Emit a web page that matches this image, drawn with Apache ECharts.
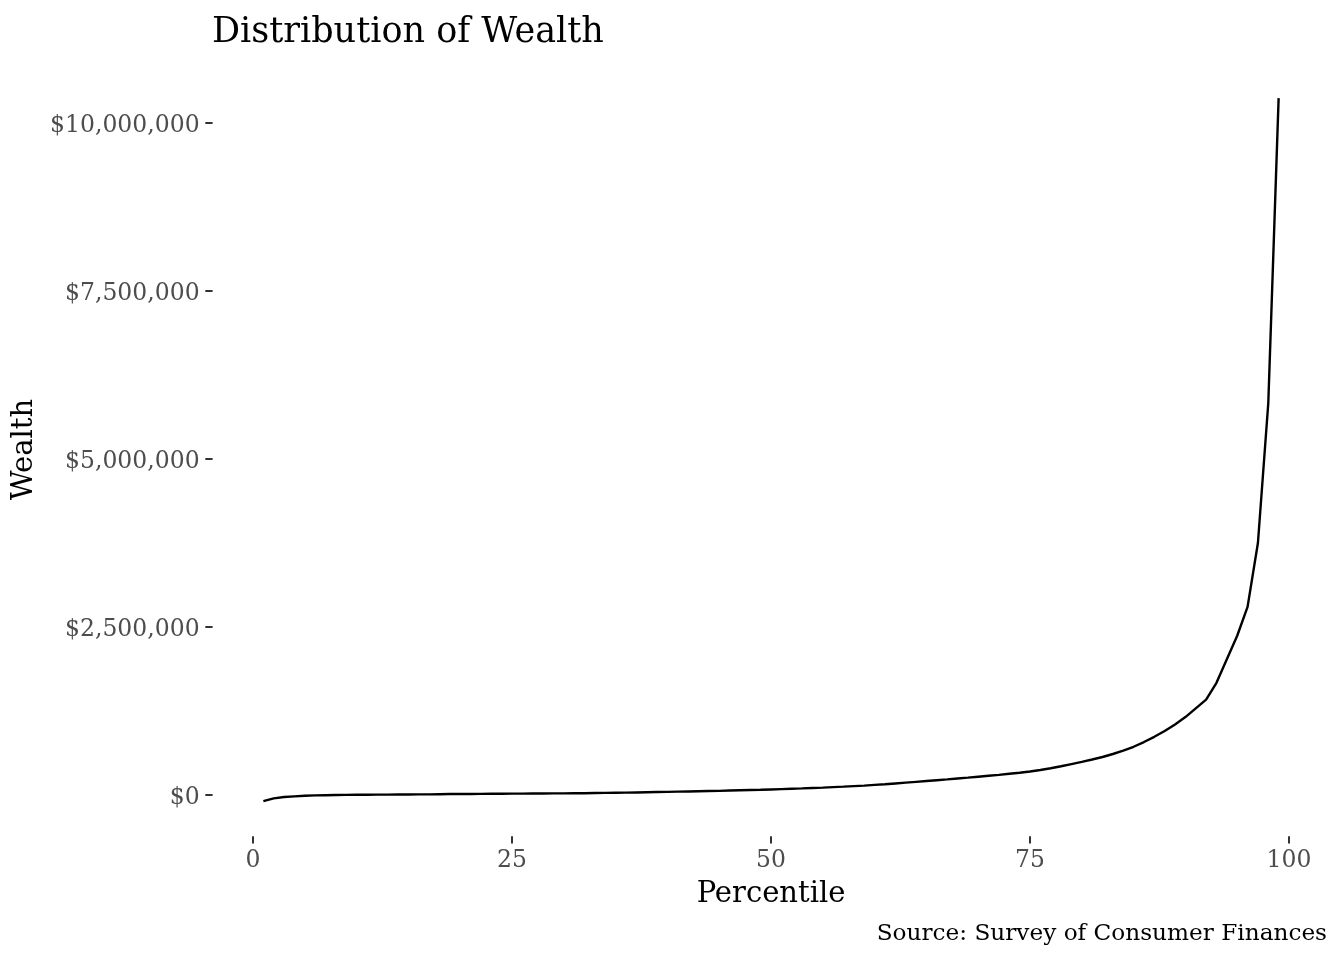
<!DOCTYPE html>
<html>
<head>
<meta charset="utf-8">
<script src="https://cdn.jsdelivr.net/npm/echarts@6/dist/echarts.min.js"></script>
<style>
	html, body {margin: 0; padding: 0; background: #fff;}
	#chart {width: 1344px; height: 960px;}
</style>
</head>
<body>
<div id="chart"></div>
<script>
// percentile of the wealth distribution
let percentiles = [
	1, 2, 3, 4, 5, 6, 7, 8, 9, 10,
	11, 12, 13, 14, 15, 16, 17, 18, 19, 20,
	21, 22, 23, 24, 25, 26, 27, 28, 29, 30,
	31, 32, 33, 34, 35, 36, 37, 38, 39, 40,
	41, 42, 43, 44, 45, 46, 47, 48, 49, 50,
	51, 52, 53, 54, 55, 56, 57, 58, 59, 60,
	61, 62, 63, 64, 65, 66, 67, 68, 69, 70,
	71, 72, 73, 74, 75, 76, 77, 78, 79, 80,
	81, 82, 83, 84, 85, 86, 87, 88, 89, 90,
	91, 92, 93, 94, 95, 96, 97, 98, 99
]

// wealth in dollars
let wealth = [
	-90000, -50000, -30000, -20000, -12000, -6000, -3000, 0, 2000, 3000,
	4000, 5000, 6000, 7000, 8000, 9000, 10000, 12000, 14000, 15000,
	16000, 17000, 18000, 19000, 20000, 21000, 22000, 23000, 24000, 25000,
	26000, 27000, 29000, 31000, 33000, 35000, 38000, 41000, 44000, 47000,
	50000, 53000, 56000, 59000, 62000, 66000, 70000, 74000, 78000, 83000,
	88000, 93000, 98000, 104000, 110000, 117000, 124000, 132000, 140000, 150000,
	160000, 172000, 184000, 196000, 208000, 220000, 232000, 245000, 258000, 272000,
	286000, 300000, 316000, 332000, 350000, 372000, 398000, 428000, 460000, 492000,
	528000, 566000, 610000, 660000, 718000, 788000, 866000, 952000, 1050000, 1160000,
	1290000, 1420000, 1670000, 2020000, 2370000, 2800000, 3750000, 5830000, 10370000
]

let xTicks = [0, 25, 50, 75, 100]
let yTicks = [0, 2500000, 5000000, 7500000, 10000000]

let font = "DejaVu Serif"

let chart = echarts.init(document.getElementById("chart"))

let points = []
for (let i = 0; i < percentiles.length; i++)
	points.push([percentiles[i], wealth[i]])

let option = {
	backgroundColor: "#fff",
	animation: false,
	title: [
		{
			text: "Distribution of Wealth",
			left: 207,
			top: 10,
			textStyle: {fontFamily: font, fontSize: 35, fontWeight: "normal", color: "#000"}
		},
		{
			text: "Source: Survey of Consumer Finances",
			right: 12,
			top: 917,
			textStyle: {fontFamily: font, fontSize: 23.2, fontWeight: "normal", color: "#000"}
		}
	],
	grid: {
		left: 212.6,
		right: 14.6,
		top: 63,
		bottom: 123.8
	},
	xAxis: {
		type: "value",
		min: -3.9,
		max: 103.9,
		name: "Percentile",
		nameLocation: "middle",
		nameGap: 44,
		nameTextStyle: {fontFamily: font, fontSize: 29, color: "#000"},
		axisLine: {show: false, onZero: false},
		axisTick: {show: true, length: 7.3, customValues: xTicks, lineStyle: {color: "#333", width: 2}},
		axisLabel: {
			customValues: xTicks,
			margin: 13,
			fontFamily: font,
			fontSize: 23.5,
			color: "#4d4d4d"
		},
		splitLine: {show: false}
	},
	yAxis: {
		type: "value",
		min: -613000,
		max: 10893000,
		name: "Wealth",
		nameLocation: "middle",
		nameGap: 164,
		nameTextStyle: {fontFamily: font, fontSize: 29, color: "#000"},
		axisLine: {show: false, onZero: false},
		axisTick: {show: true, length: 7.3, customValues: yTicks, lineStyle: {color: "#333", width: 2}},
		axisLabel: {
			customValues: yTicks,
			margin: 13,
			fontFamily: font,
			fontSize: 23.5,
			color: "#4d4d4d",
			formatter: v => "{v|$" + v.toLocaleString("en-US") + "}",
			rich: {
				v: {fontFamily: font, fontSize: 23.5, color: "#4d4d4d", padding: [5, 0, 0, 0]}
			}
		},
		splitLine: {show: false}
	},
	series: [
		{
			type: "line",
			data: points,
			showSymbol: false,
			lineStyle: {color: "#000", width: 2.4},
			silent: true
		}
	]
}
chart.setOption(option)
</script>
</body>
</html>
